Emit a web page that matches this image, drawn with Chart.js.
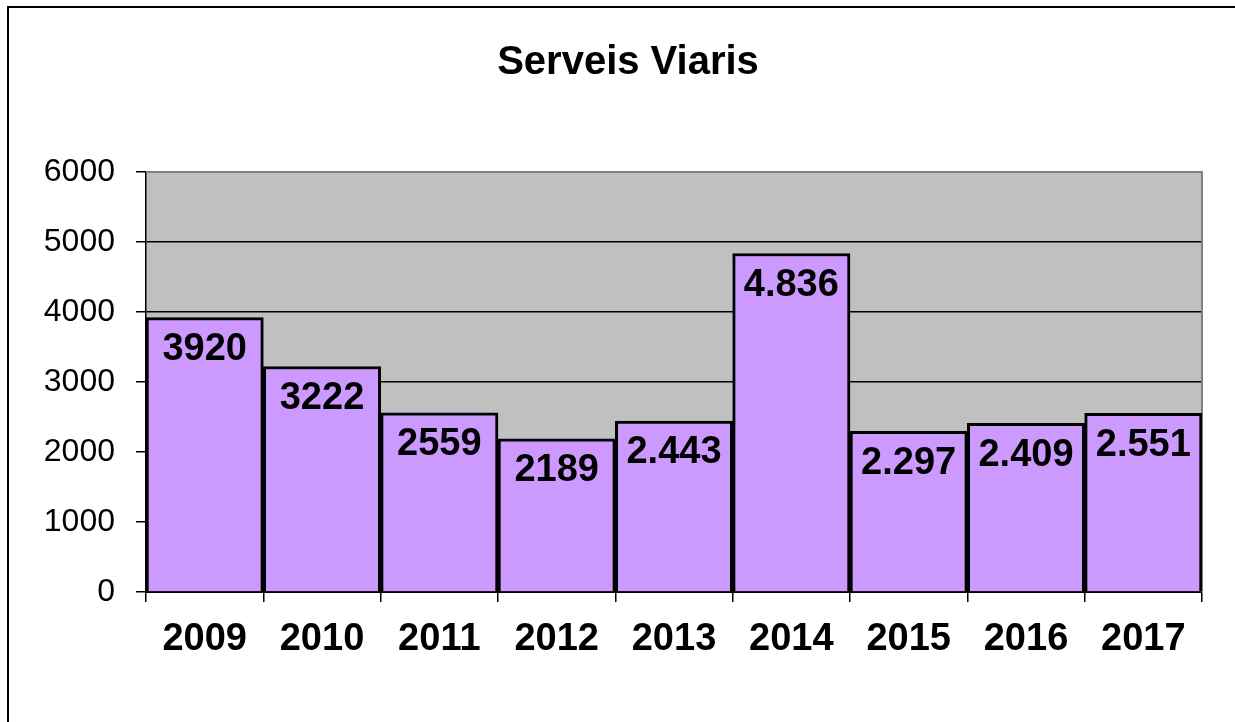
<!DOCTYPE html>
<html>
<head>
<meta charset="utf-8">
<script src="https://cdn.jsdelivr.net/npm/chart.js@4"></script>
<style>
  html, body { margin: 0; padding: 0; background: #fff; }
  canvas { display: block; }
</style>
</head>
<body>
<canvas id="serveisChart" width="1235" height="722"></canvas>
<script>
const years = ["2009","2010","2011","2012","2013","2014","2015","2016","2017"];
const serveis = [3920, 3222, 2559, 2189, 2443, 4836, 2297, 2409, 2551];
const valueLabels = ["3920","3222","2559","2189","2.443","4.836","2.297","2.409","2.551"];
const yTicks = [0, 1000, 2000, 3000, 4000, 5000, 6000];
const chartTitle = "Serveis Viaris";

const FONT = "'Liberation Sans', Arial, sans-serif";

// marc exterior, títol i fons gris de la zona de dibuix
const plotArea = {
  id: "plotArea",
  beforeDraw(chart) {
    const { ctx, chartArea: a } = chart;
    ctx.save();
    ctx.fillStyle = "#fff";
    ctx.fillRect(0, 0, chart.width, chart.height);
    ctx.strokeStyle = "#000";
    ctx.lineWidth = 2;
    ctx.strokeRect(8, 7, 1400, 900);
    ctx.fillStyle = "#c0c0c0";
    ctx.fillRect(a.left, a.top, a.right - a.left, a.bottom - a.top);
    ctx.font = "bold 40px " + FONT;
    ctx.fillStyle = "#000";
    ctx.textAlign = "center";
    ctx.textBaseline = "middle";
    ctx.fillText(chartTitle, (54 + a.right) / 2, 63);
    ctx.restore();
  },
  beforeDatasetsDraw(chart) {
    const { ctx, chartArea: a } = chart;
    ctx.save();
    ctx.strokeStyle = "#808080";
    ctx.lineWidth = 2;
    ctx.beginPath();
    ctx.moveTo(a.left, a.top);
    ctx.lineTo(a.right, a.top);
    ctx.lineTo(a.right, a.bottom);
    ctx.stroke();
    ctx.restore();
  }
};

// etiquetes de valor dins de cada barra
const valueLabelsPlugin = {
  id: "valueLabels",
  afterDatasetsDraw(chart) {
    const { ctx } = chart;
    const meta = chart.getDatasetMeta(0);
    ctx.save();
    ctx.font = "bold 38px " + FONT;
    ctx.fillStyle = "#000";
    ctx.textAlign = "center";
    ctx.textBaseline = "middle";
    meta.data.forEach((bar, i) => {
      ctx.fillText(valueLabels[i], bar.x, bar.y + 32);
    });
    ctx.restore();
  }
};

new Chart(document.getElementById("serveisChart"), {
  type: "bar",
  data: {
    labels: years,
    datasets: [{
      label: chartTitle,
      data: serveis,
      backgroundColor: "#cc99ff",
      borderColor: "#000",
      borderWidth: 3,
      categoryPercentage: 1,
      barPercentage: 1
    }]
  },
  options: {
    responsive: false,
    animation: false,
    layout: { padding: { left: 0, right: 33, top: 172, bottom: 0 } },
    plugins: {
      legend: { display: false },
      tooltip: { enabled: false },
      title: { display: false }
    },
    scales: {
      x: {
        afterFit(scale) { scale.height = 130; },
        grid: {
          drawOnChartArea: false,
          drawTicks: true,
          tickLength: 10,
          color: "#000",
          lineWidth: 1.5,
          offset: true
        },
        border: { color: "#000", width: 2 },
        ticks: {
          color: "#000",
          padding: 15,
          font: { family: FONT, size: 38, weight: "bold" }
        }
      },
      y: {
        min: 0,
        max: 6000,
        afterFit(scale) { scale.width = 146; },
        afterBuildTicks(scale) { scale.ticks = yTicks.map(v => ({ value: v })); },
        grid: {
          color: ctx => (ctx.tick && ctx.tick.value === 6000) ? "rgba(0,0,0,0)" : "#000",
          tickColor: "#000",
          lineWidth: 1.5,
          tickLength: 10
        },
        border: { color: "#000", width: 1.5 },
        ticks: {
          color: "#000",
          padding: 21,
          font: { family: FONT, size: 32 },
          callback: v => String(v)
        }
      }
    }
  },
  plugins: [plotArea, valueLabelsPlugin]
});
</script>
</body>
</html>
